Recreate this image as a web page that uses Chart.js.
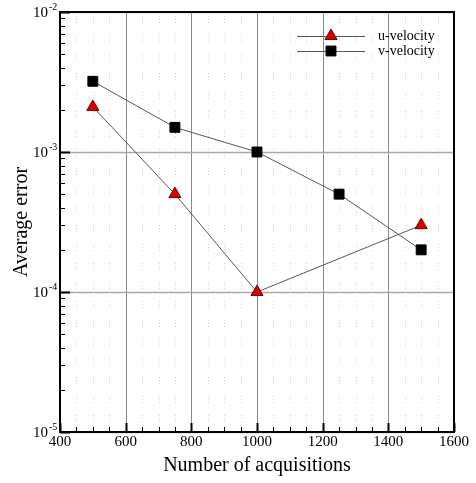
<!DOCTYPE html>
<html>
<head>
<meta charset="utf-8">
<script src="https://cdn.jsdelivr.net/npm/chart.js@4/dist/chart.umd.min.js"></script>
<style>
  html, body { margin: 0; padding: 0; background: #fff; }
</style>
</head>
<body>
<canvas id="errores" width="476" height="483"></canvas>
<script>
// datos
var uAcq = [500, 750, 1000, 1500];
var uVelocity = [2.1e-3, 5e-4, 1e-4, 3e-4];
var vAcq = [500, 750, 1000, 1250, 1500];
var vVelocity = [3.2e-3, 1.5e-3, 1e-3, 5e-4, 2e-4];

var xTicks = [400, 600, 800, 1000, 1200, 1400, 1600];
var xMinorStep = 50;
var yExponents = [-2, -3, -4, -5];

var serif = '"Liberation Serif", "DejaVu Serif", serif';

function pts(xs, ys) {
    return xs.map(function (x, i) { return { x: x, y: ys[i] }; });
}

var axesPlugin = {
    id: 'tecplotAxes',
    beforeDatasetsDraw: function (chart) {
        var ctx = chart.ctx, a = chart.chartArea;
        var xs = chart.scales.x, ys = chart.scales.y;
        ctx.save();
        // minor dotted grid (vertical only)
        ctx.strokeStyle = '#cfcfcf';
        ctx.lineWidth = 1;
        ctx.setLineDash([1, 2, 1, 2, 1, 12]);
        ctx.lineDashOffset = -4;
        for (var v = xTicks[0]; v <= xTicks[xTicks.length - 1]; v += xMinorStep) {
            if (xTicks.indexOf(v) >= 0) continue;
            var px = Math.round(xs.getPixelForValue(v)) + 0.5;
            ctx.beginPath(); ctx.moveTo(px, a.top); ctx.lineTo(px, a.bottom); ctx.stroke();
        }
        // major grid
        ctx.setLineDash([]);
        ctx.strokeStyle = '#8a8a8a';
        xTicks.forEach(function (v) {
            var px = Math.round(xs.getPixelForValue(v)) + 0.5;
            ctx.beginPath(); ctx.moveTo(px, a.top); ctx.lineTo(px, a.bottom); ctx.stroke();
        });
        ctx.strokeStyle = '#a8a8a8';
        ctx.lineWidth = 1.5;
        yExponents.forEach(function (e) {
            var py = Math.round(ys.getPixelForValue(Math.pow(10, e))) + 0.5;
            ctx.beginPath(); ctx.moveTo(a.left, py); ctx.lineTo(a.right, py); ctx.stroke();
        });
        ctx.restore();
    },
    afterDatasetsDraw: function (chart) {
        var ctx = chart.ctx, a = chart.chartArea;
        var xs = chart.scales.x, ys = chart.scales.y;
        ctx.save();
        ctx.strokeStyle = '#000';
        // ticks bottom
        for (var v = xTicks[0]; v <= xTicks[xTicks.length - 1]; v += xMinorStep) {
            var major = xTicks.indexOf(v) >= 0;
            var px = Math.round(xs.getPixelForValue(v)) + 0.5;
            ctx.lineWidth = major ? 2 : 1;
            ctx.beginPath(); ctx.moveTo(px, a.bottom); ctx.lineTo(px, a.bottom - (major ? 9 : 5)); ctx.stroke();
        }
        // ticks left
        yExponents.forEach(function (e) {
            for (var m = 1; m <= 9; m++) {
                if (e === -2 && m > 1) break;
                var py = Math.round(ys.getPixelForValue(m * Math.pow(10, e))) + 0.5;
                ctx.lineWidth = m === 1 ? 2 : 1;
                ctx.beginPath(); ctx.moveTo(a.left, py); ctx.lineTo(a.left + (m === 1 ? 10 : 5), py); ctx.stroke();
            }
        });
        // frame
        ctx.lineWidth = 2;
        ctx.strokeRect(a.left, a.top, a.right - a.left, a.bottom - a.top);

        // tick labels
        ctx.fillStyle = '#000';
        ctx.font = '15px ' + serif;
        ctx.textAlign = 'center';
        ctx.textBaseline = 'top';
        xTicks.forEach(function (v) {
            ctx.fillText(String(v), xs.getPixelForValue(v), a.bottom + 3);
        });
        yExponents.forEach(function (e) {
            var py = ys.getPixelForValue(Math.pow(10, e));
            ctx.font = '15px ' + serif;
            ctx.textAlign = 'right';
            ctx.textBaseline = 'middle';
            ctx.fillText('10', 48, py + 1);
            ctx.font = '10px ' + serif;
            ctx.textAlign = 'left';
            ctx.fillText(String(e), 49, py - 5);
        });

        // axis titles
        ctx.font = '20px ' + serif;
        ctx.textAlign = 'center';
        ctx.textBaseline = 'middle';
        ctx.fillText('Number of acquisitions', (a.left + a.right) / 2, 466);
        ctx.translate(22, (a.top + a.bottom) / 2);
        ctx.rotate(-Math.PI / 2);
        ctx.fillText('Average error', 0, 0);
        ctx.restore();

        // legend
        ctx.save();
        var items = chart.data.datasets;
        items.forEach(function (ds, i) {
            var ly = 36 + i * 15;
            ctx.strokeStyle = '#555';
            ctx.lineWidth = 1;
            ctx.beginPath(); ctx.moveTo(297, ly + 0.5); ctx.lineTo(365, ly + 0.5); ctx.stroke();
            ctx.fillStyle = ds.pointBackgroundColor;
            ctx.strokeStyle = ds.pointBorderColor;
            Chart.helpers.drawPoint(ctx, {
                pointStyle: ds.pointStyle, radius: ds.pointRadius,
                borderWidth: ds.pointBorderWidth, rotation: 0
            }, 331, ly);
            ctx.fillStyle = '#000';
            ctx.font = '14px ' + serif;
            ctx.textAlign = 'left';
            ctx.textBaseline = 'middle';
            ctx.fillText(ds.label, 378, ly);
        });
        ctx.restore();
    }
};

var ctx = document.getElementById('errores');
var chart = new Chart(ctx, {
    type: 'scatter',
    data: {
        datasets: [{
            label: 'u-velocity',
            data: pts(uAcq, uVelocity),
            showLine: true,
            borderColor: '#555',
            borderWidth: 1,
            pointStyle: 'triangle',
            pointRadius: 7,
            pointBackgroundColor: '#d40000',
            pointBorderColor: '#7a0000',
            pointBorderWidth: 1
        }, {
            label: 'v-velocity',
            data: pts(vAcq, vVelocity),
            showLine: true,
            borderColor: '#555',
            borderWidth: 1,
            pointStyle: 'rect',
            pointRadius: 7,
            pointBackgroundColor: '#000',
            pointBorderColor: '#000',
            pointBorderWidth: 1
        }]
    },
    options: {
        responsive: false,
        animation: false,
        layout: { padding: { left: 60, top: 12, right: 22, bottom: 51 } },
        scales: {
            x: { type: 'linear', min: 400, max: 1600, display: false },
            y: { type: 'logarithmic', min: 1e-5, max: 1e-2, display: false }
        },
        plugins: {
            legend: { display: false },
            tooltip: { enabled: false }
        }
    },
    plugins: [axesPlugin]
});
</script>
</body>
</html>
